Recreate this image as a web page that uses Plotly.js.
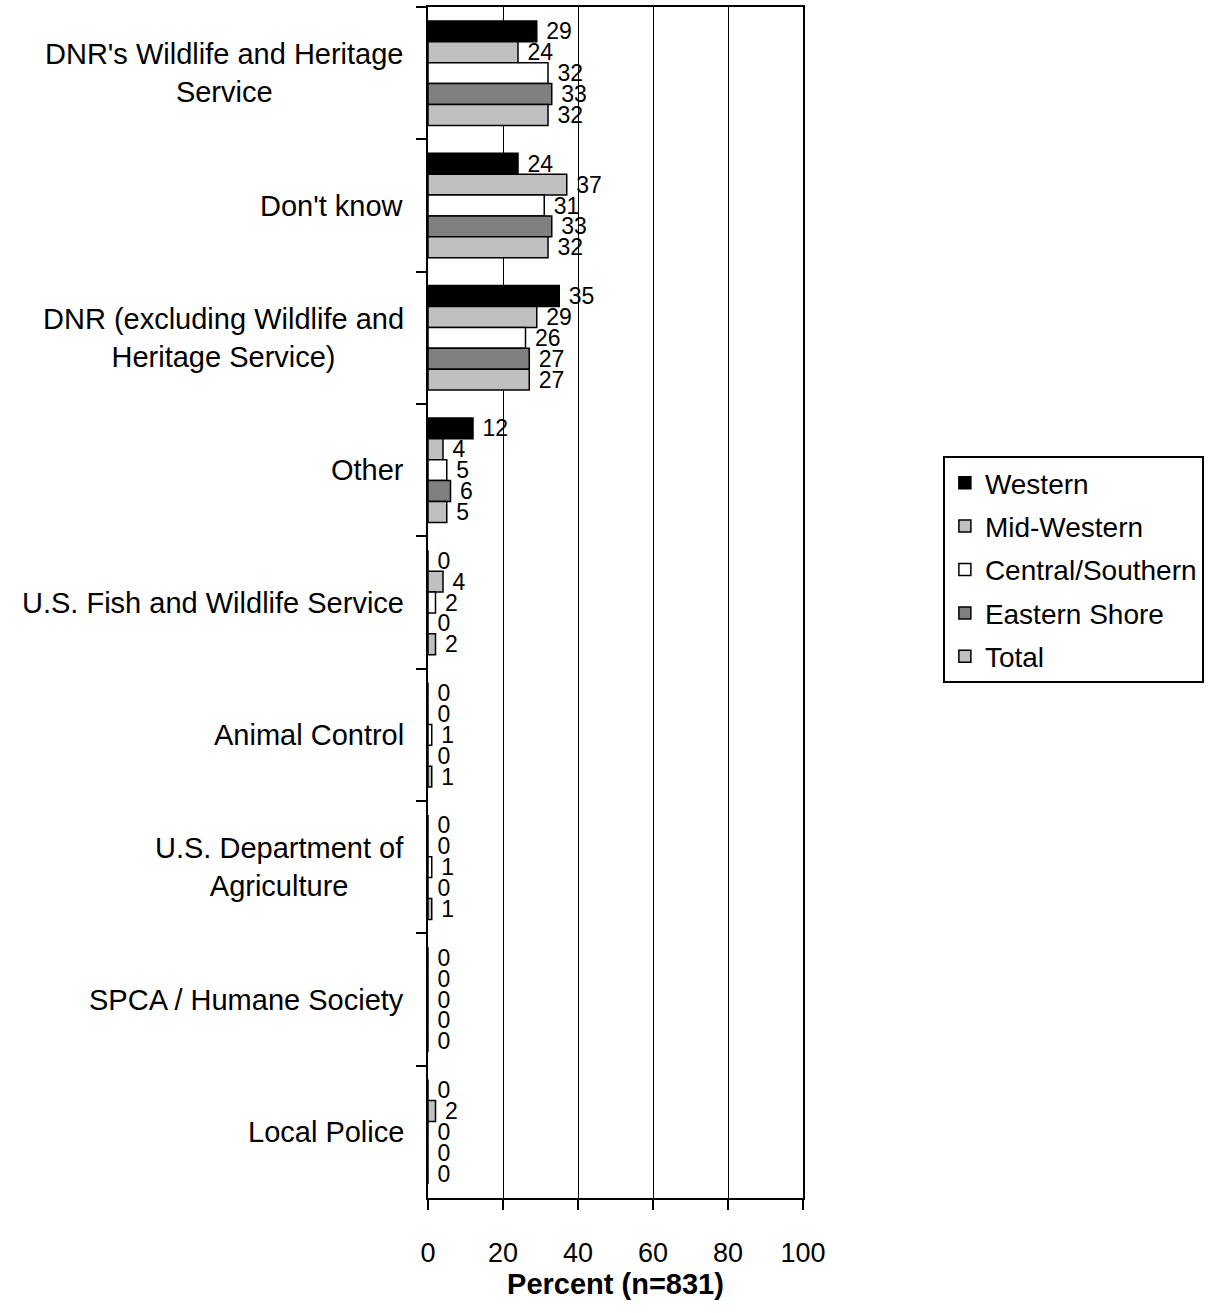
<!DOCTYPE html>
<html>
<head>
<meta charset="utf-8">
<script src="https://cdn.plot.ly/plotly-3.0.1.min.js"></script>
<style>html,body{margin:0;padding:0;background:#fff;}</style>
</head>
<body>
<div id="chart" style="width:1225px;height:1313px;"></div>
<script>
const categories = [
  "DNR's Wildlife and Heritage<br>Service",
  "Don't know",
  "DNR (excluding Wildlife and<br>Heritage Service)",
  "Other",
  "U.S. Fish and Wildlife Service",
  "Animal Control",
  "U.S. Department of<br>Agriculture",
  "SPCA / Humane Society",
  "Local Police"
];
const seriesNames = ["Western", "Mid-Western", "Central/Southern", "Eastern Shore", "Total"];
const western        = [29, 24, 35, 12, 0, 0, 0, 0, 0];
const midWestern     = [24, 37, 29, 4, 4, 0, 0, 0, 2];
const centralSouthern= [32, 31, 26, 5, 2, 1, 1, 0, 0];
const easternShore   = [33, 33, 27, 6, 0, 0, 0, 0, 0];
const total          = [32, 32, 27, 5, 2, 1, 1, 0, 0];
const xTicks = [0, 20, 40, 60, 80, 100];

const seriesValues = [western, midWestern, centralSouthern, easternShore, total];
const colors = ["#000000", "#C0C0C0", "#FFFFFF", "#808080", "#C0C0C0"];
const FONT = "Liberation Sans, Arial, sans-serif";

const traces = seriesNames.map((name, i) => ({
  type: 'bar',
  orientation: 'h',
  name: name,
  legendgroup: name,
  x: seriesValues[i],
  y: categories,
  text: seriesValues[i].map(v => '\u00a0' + v),
  textposition: 'outside',
  constraintext: 'none',
  cliponaxis: false,
  textfont: {family: FONT, size: 23, color: '#000'},
  marker: {color: colors[i], line: {color: '#000', width: 1.5}},
  hoverinfo: 'skip'
}));

const annotations = categories.map(c => ({
  xref: 'paper', yref: 'y', x: 0, y: c, xanchor: 'right', yanchor: 'middle',
  xshift: -22, text: c, showarrow: false, align: 'center',
  font: {family: FONT, size: 29, color: '#000'}
}));

const layout = {
  width: 1225, height: 1313,
  margin: {l: 428, r: 422, t: 7, b: 115},
  paper_bgcolor: '#fff', plot_bgcolor: '#fff',
  barmode: 'group', bargap: 0.21, bargroupgap: 0,
  font: {family: FONT, size: 24, color: '#000'},
  showlegend: true,
  legend: {
    x: 1.373, y: 0.623, xanchor: 'left', yanchor: 'top',
    bordercolor: '#000', borderwidth: 2, bgcolor: '#fff',
    font: {family: FONT, size: 28, color: '#000'},
    traceorder: 'grouped', tracegroupgap: 4,
    itemwidth: 30
  },
  xaxis: {
    range: [0, 100], tickvals: xTicks, ticktext: xTicks.map(String),
    showgrid: true, gridcolor: '#000', gridwidth: 1,
    zeroline: false, showline: true, linecolor: '#000', linewidth: 2, mirror: true,
    ticks: 'outside', ticklen: 10, tickwidth: 2, tickcolor: '#000',
    ticklabelstandoff: 20,
    tickfont: {family: FONT, size: 27, color: '#000'},
    title: {text: '<b>Percent (n=831)</b>', font: {family: FONT, size: 29, color: '#000'}, standoff: 4},
    fixedrange: true
  },
  yaxis: {
    type: 'category', autorange: 'reversed',
    showticklabels: false, tickson: 'boundaries',
    ticks: 'outside', ticklen: 10, tickwidth: 2, tickcolor: '#000',
    showgrid: false, zeroline: false,
    showline: true, linecolor: '#000', linewidth: 2, mirror: true,
    fixedrange: true
  },
  annotations: annotations
};

Plotly.newPlot('chart', traces, layout, {displayModeBar: false, staticPlot: true});
</script>
</body>
</html>
